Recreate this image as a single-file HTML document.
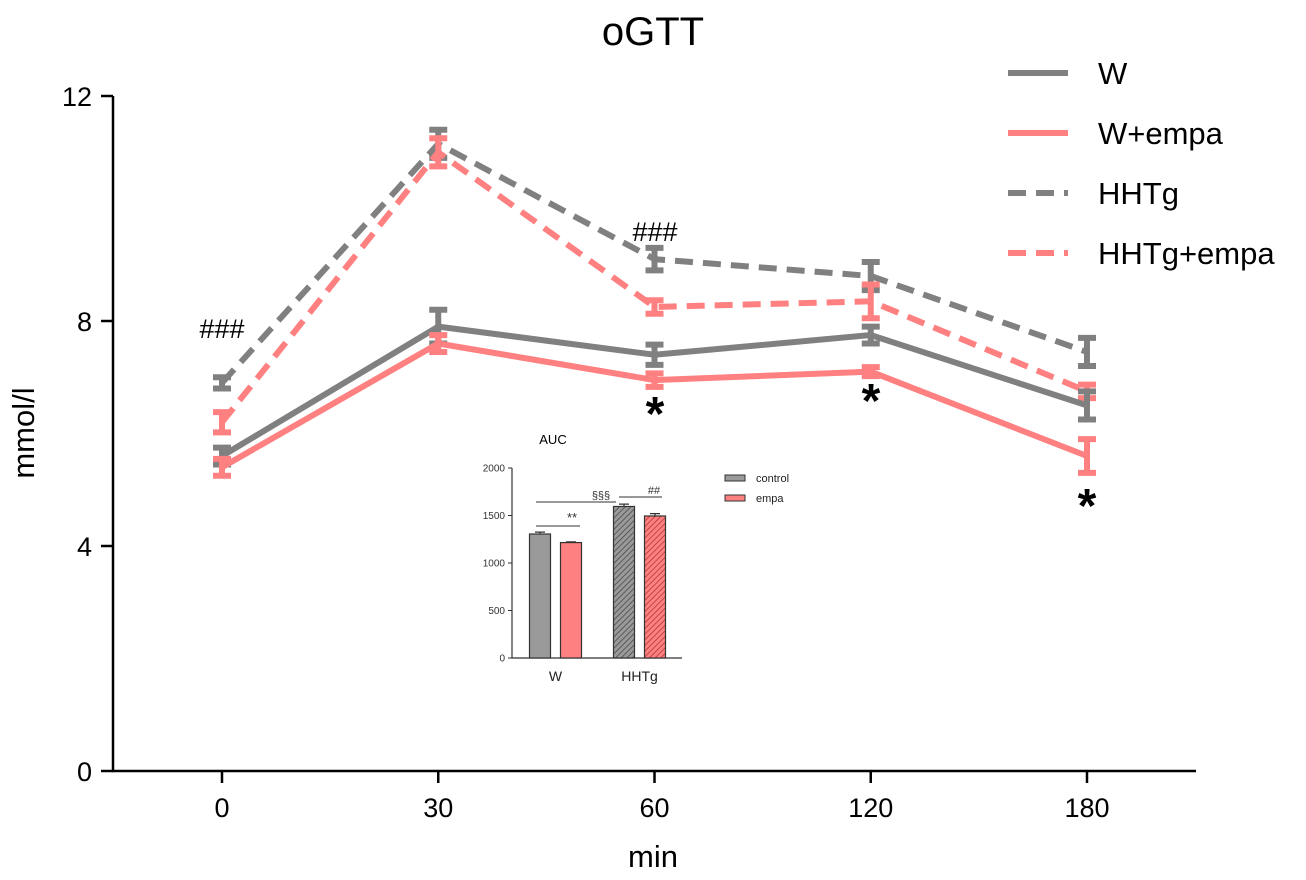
<!DOCTYPE html>
<html><head><meta charset="utf-8">
<style>body{margin:0;background:#fff;font-family:"Liberation Sans",Arial,sans-serif}</style></head>
<body>
<svg id="c" width="1306" height="875" xmlns="http://www.w3.org/2000/svg">
<defs>
<pattern id="hg" patternUnits="userSpaceOnUse" width="4" height="4" patternTransform="rotate(45)"><rect width="4" height="4" fill="#9a9a9a"/><line x1="0" y1="0" x2="0" y2="4" stroke="#444" stroke-width="1.5"/></pattern>
<pattern id="hr" patternUnits="userSpaceOnUse" width="4" height="4" patternTransform="rotate(45)"><rect width="4" height="4" fill="#ff8080"/><line x1="0" y1="0" x2="0" y2="4" stroke="#a33" stroke-width="1.5"/></pattern>
</defs>
</svg>
<script>
const categories=["0","30","60","120","180"];
const yTicks=[0,4,8,12];
const wVals=[5.6,7.9,7.4,7.75,6.5];
const wErr=[0.15,0.3,0.18,0.15,0.25];
const weVals=[5.4,7.6,6.95,7.1,5.6];
const weErr=[0.15,0.15,0.12,0.08,0.3];
const hVals=[6.9,11.15,9.1,8.8,7.45];
const hErr=[0.1,0.25,0.2,0.25,0.25];
const heVals=[6.2,11.0,8.25,8.35,6.75];
const heErr=[0.18,0.25,0.12,0.3,0.12];
const aucGroups=["W","HHTg"];
const aucControl=[1305,1595];
const aucEmpa=[1215,1495];
const aucCtrlErr=[20,25];
const aucEmpaErr=[8,25];
const aucTicks=[0,500,1000,1500,2000];

const NS="http://www.w3.org/2000/svg";
const svg=document.getElementById('c');
function el(t,a,p){const e=document.createElementNS(NS,t);for(const k in a)e.setAttribute(k,a[k]);(p||svg).appendChild(e);return e;}
function tx(x,y,s,size,anchor,fill){const e=el('text',{x:x,y:y,'font-size':size,'text-anchor':anchor||'middle',fill:fill||'#000'});e.textContent=s;return e;}
const xp=i=>222+i*216.25;
const yp=v=>771-v*56.25;
const G='#808080',R='#ff8080';

let t=tx(653,45,'oGTT',40);

let a=el('path',{d:'M113 96V771H1196',stroke:'#000','stroke-width':2.5,fill:'none'});

yTicks.forEach(v=>{el('line',{x1:101,x2:113,y1:yp(v),y2:yp(v),stroke:'#000','stroke-width':2.5});
 const l=tx(92,yp(v)+10,String(v),27,'end');});
categories.forEach((c,i)=>{el('line',{x1:xp(i),x2:xp(i),y1:771,y2:783,stroke:'#000','stroke-width':2.5});
 const l=tx(xp(i),817,c,27);});
t=tx(653,867,'min',31);
t=tx(0,0,'mmol/l',31);t.setAttribute('transform','translate(34,433) rotate(-90)');


function series(vals,err,col,dash,name){
 const g=el('g',{});
 el('polyline',{points:vals.map((v,i)=>xp(i)+','+yp(v)).join(' '),fill:'none',stroke:col,'stroke-width':6,'stroke-dasharray':dash?'18 10':'none'},g);
 vals.forEach((v,i)=>{const x=xp(i),y1=yp(v+err[i]),y2=yp(v-err[i]);
  el('path',{d:`M${x} ${y1}V${y2}M${x-9} ${y1}H${x+9}M${x-9} ${y2}H${x+9}`,stroke:col,'stroke-width':6,fill:'none'},g);});
}
series(hVals,hErr,G,true,'series-hhtg');
series(heVals,heErr,R,true,'series-hhtg-empa');
series(wVals,wErr,G,false,'series-w');
series(weVals,weErr,R,false,'series-w-empa');

[['###',222,338],['###',655,241]].forEach(s=>{t=tx(s[1],s[2],s[0],27);});
[[655,430],[871,417],[1087,522]].forEach(s=>{t=tx(s[0],s[1],'*',48);t.setAttribute('font-weight','bold');});

const leg=[['W',G,false],['W+empa',R,false],['HHTg',G,true],['HHTg+empa',R,true]];
leg.forEach((l,i)=>{const y=73+i*60;const g=el('g',{});
 
 el('line',{x1:1008,x2:1068,y1:y,y2:y,stroke:l[1],'stroke-width':6,'stroke-dasharray':l[2]?'18 10':'none'},g);
 const tt=tx(1098,y+11,l[0],31,'start');g.appendChild(tt);});

// inset
const ig=el('g',{});
const iy=v=>658-v*0.095;
tx(553,444,'AUC',13);
el('path',{d:'M512 468V658H682',stroke:'#333','stroke-width':1.2,fill:'none'},ig);
aucTicks.forEach(v=>{el('line',{x1:508,x2:512,y1:iy(v),y2:iy(v),stroke:'#333'},ig);
 const l=tx(505,iy(v)+3.5,String(v),10,'end','#333');ig.appendChild(l);});
const gx=[539.5,623.5];
aucGroups.forEach((gname,i)=>{
 const l=tx(gx[i]+16,681,gname,14,'middle','#222');ig.appendChild(l);
 [[aucControl[i],aucCtrlErr[i],i?'url(#hg)':'#9a9a9a',gx[i]-10],[aucEmpa[i],aucEmpaErr[i],i?'url(#hr)':'#ff8080',gx[i]+21]].forEach(b=>{
  const r=el('rect',{x:b[3],y:iy(b[0]),width:21,height:658-iy(b[0]),fill:b[2],stroke:'#333','stroke-width':1.2},ig);
  
  const cx=b[3]+10.5;el('path',{d:`M${cx} ${iy(b[0]+b[1])}V${iy(b[0])}M${cx-5} ${iy(b[0]+b[1])}H${cx+5}`,stroke:'#333','stroke-width':1.2},ig);});
});
el('line',{x1:536,x2:580,y1:526,y2:526,stroke:'#333'},ig);tx(572,522,'**',13,'middle','#333');
el('line',{x1:536,x2:616,y1:502,y2:502,stroke:'#333'},ig);tx(601,499,'§§§',11,'middle','#333');
el('line',{x1:619,x2:662,y1:497,y2:497,stroke:'#333'},ig);tx(654,494,'##',11,'middle','#333');
[['control','#9a9a9a',478],['empa','#ff8080',498]].forEach(l=>{
 const r=el('rect',{x:725,y:l[2]-3,width:20,height:6,fill:l[1],stroke:'#333'},ig);
 
 ig.appendChild(tx(756,l[2]+4,l[0],11,'start','#222'));});
</script>
</body></html>
